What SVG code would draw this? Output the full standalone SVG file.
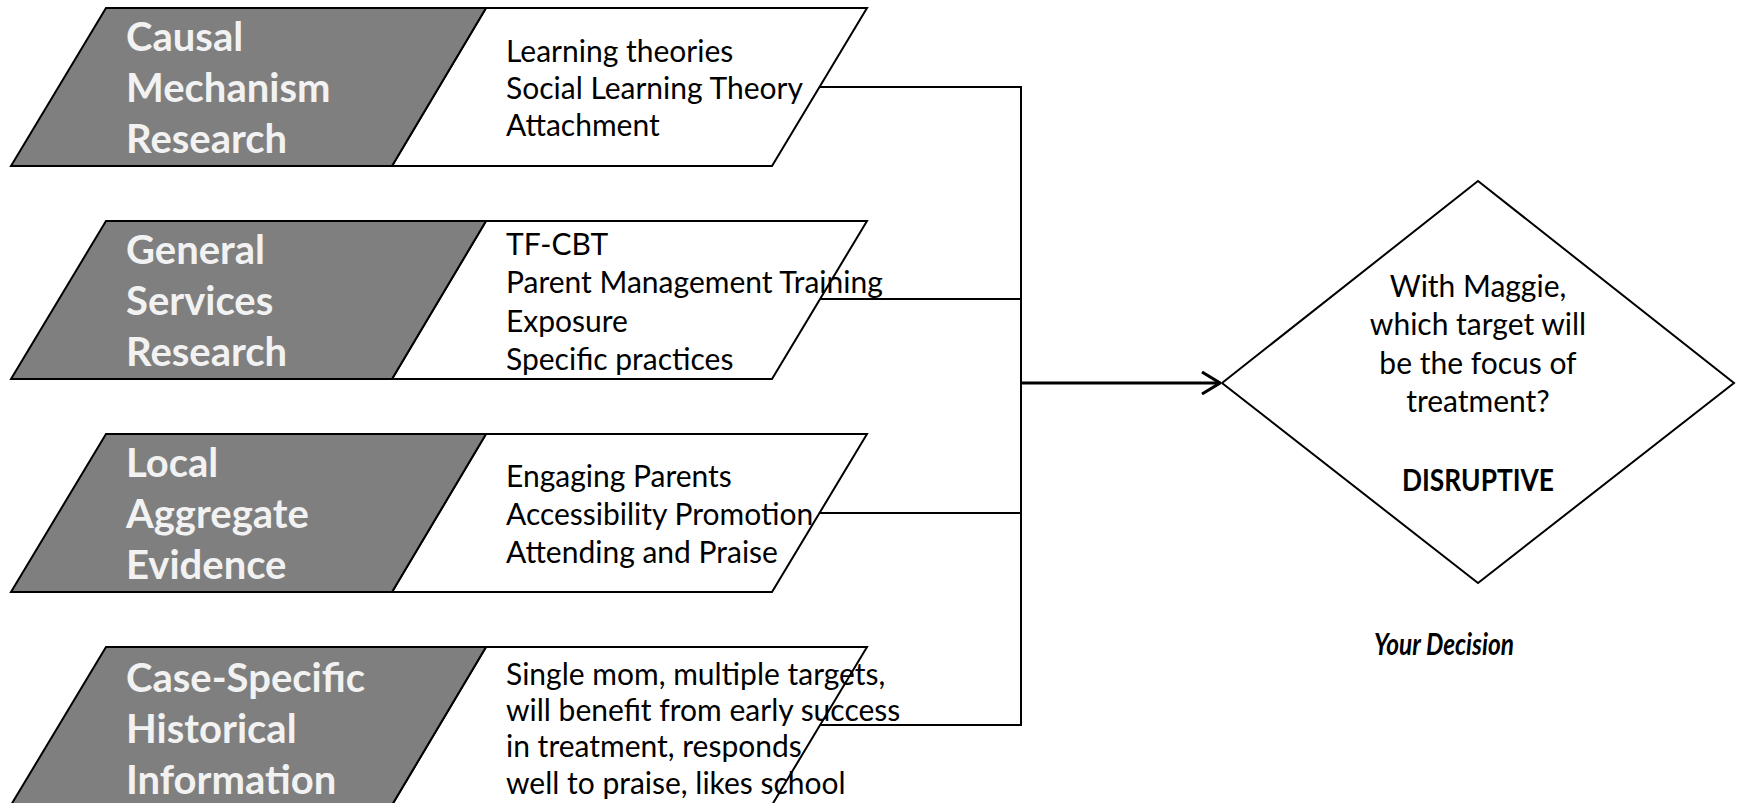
<svg xmlns="http://www.w3.org/2000/svg" width="1742" height="803" viewBox="0 0 1742 803">
<defs>
<style>
.gray{fill:#7f7f7f;stroke:#000;stroke-width:2}
.white{fill:#fff;stroke:#000;stroke-width:2}
.lbl{font-family:Lato,"Liberation Sans",sans-serif;font-weight:bold;font-size:40px;fill:#f2f2f2}
.txt{font-family:Lato,"Liberation Sans",sans-serif;font-size:30px;fill:#000}
.ctr{text-anchor:middle}
.conn{fill:none;stroke:#000;stroke-width:2}
</style>
<marker id="arr" viewBox="0 0 20 24" refX="19" refY="12" markerWidth="20" markerHeight="24" markerUnits="userSpaceOnUse" orient="auto">
<path d="M1,1 L19,12 L1,23" fill="none" stroke="#000" stroke-width="3"/>
</marker>
</defs>
<rect width="1742" height="803" fill="#fff"/>

<g id="connectors">
<path class="conn" d="M820,87 H1021 V725 H820"/>
<path class="conn" d="M820,299 H1021"/>
<path class="conn" d="M820,513 H1021"/>
<path d="M1021,383 H1220" fill="none" stroke="#000" stroke-width="3" marker-end="url(#arr)"/>
</g>

<g id="box1">
<polygon class="white" points="486,8 867,8 772,166 392,166"/>
<polygon class="gray" points="106,8 486,8 392,166 11,166"/>
<text class="lbl" x="126" y="51">Causal</text>
<text class="lbl" x="126" y="102">Mechanism</text>
<text class="lbl" x="126" y="153">Research</text>
<text class="txt" x="506" y="62">Learning theories</text>
<text class="txt" x="506" y="99">Social Learning Theory</text>
<text class="txt" x="506" y="136">Attachment</text>
</g>

<g id="box2">
<polygon class="white" points="486,221 867,221 772,379 392,379"/>
<polygon class="gray" points="106,221 486,221 392,379 11,379"/>
<text class="lbl" x="126" y="264">General</text>
<text class="lbl" x="126" y="315">Services</text>
<text class="lbl" x="126" y="366">Research</text>
<text class="txt" x="506" y="255">TF-CBT</text>
<text class="txt" x="506" y="293">Parent Management Training</text>
<text class="txt" x="506" y="332">Exposure</text>
<text class="txt" x="506" y="370">Specific practices</text>
</g>

<g id="box3">
<polygon class="white" points="486,434 867,434 772,592 392,592"/>
<polygon class="gray" points="106,434 486,434 392,592 11,592"/>
<text class="lbl" x="126" y="477">Local</text>
<text class="lbl" x="126" y="528">Aggregate</text>
<text class="lbl" x="126" y="579">Evidence</text>
<text class="txt" x="506" y="487">Engaging Parents</text>
<text class="txt" x="506" y="525">Accessibility Promotion</text>
<text class="txt" x="506" y="563">Attending and Praise</text>
</g>

<g id="box4">
<polygon class="white" points="486,647 867,647 772,805 392,805"/>
<polygon class="gray" points="106,647 486,647 392,805 11,805"/>
<text class="lbl" x="126" y="692">Case-Specific</text>
<text class="lbl" x="126" y="743">Historical</text>
<text class="lbl" x="126" y="794">Information</text>
<text class="txt" x="506" y="685">Single mom, multiple targets,</text>
<text class="txt" x="506" y="721">will benefit from early success</text>
<text class="txt" x="506" y="757">in treatment, responds</text>
<text class="txt" x="506" y="794">well to praise, likes school</text>
</g>

<g id="decision">
<polygon class="white" points="1222,383 1478,181 1734,383 1478,583"/>
<text class="txt ctr" x="1478" y="297">With Maggie,</text>
<text class="txt ctr" x="1478" y="335">which target will</text>
<text class="txt ctr" x="1478" y="374">be the focus of</text>
<text class="txt ctr" x="1478" y="412">treatment?</text>
<text class="txt ctr" x="1478" y="491" font-weight="bold" font-size="32" textLength="152" lengthAdjust="spacingAndGlyphs">DISRUPTIVE</text>
</g>

<g id="caption">
<text class="txt ctr" x="1444" y="655" font-weight="bold" font-style="italic" font-size="32" textLength="140" lengthAdjust="spacingAndGlyphs">Your Decision</text>
</g>
</svg>
